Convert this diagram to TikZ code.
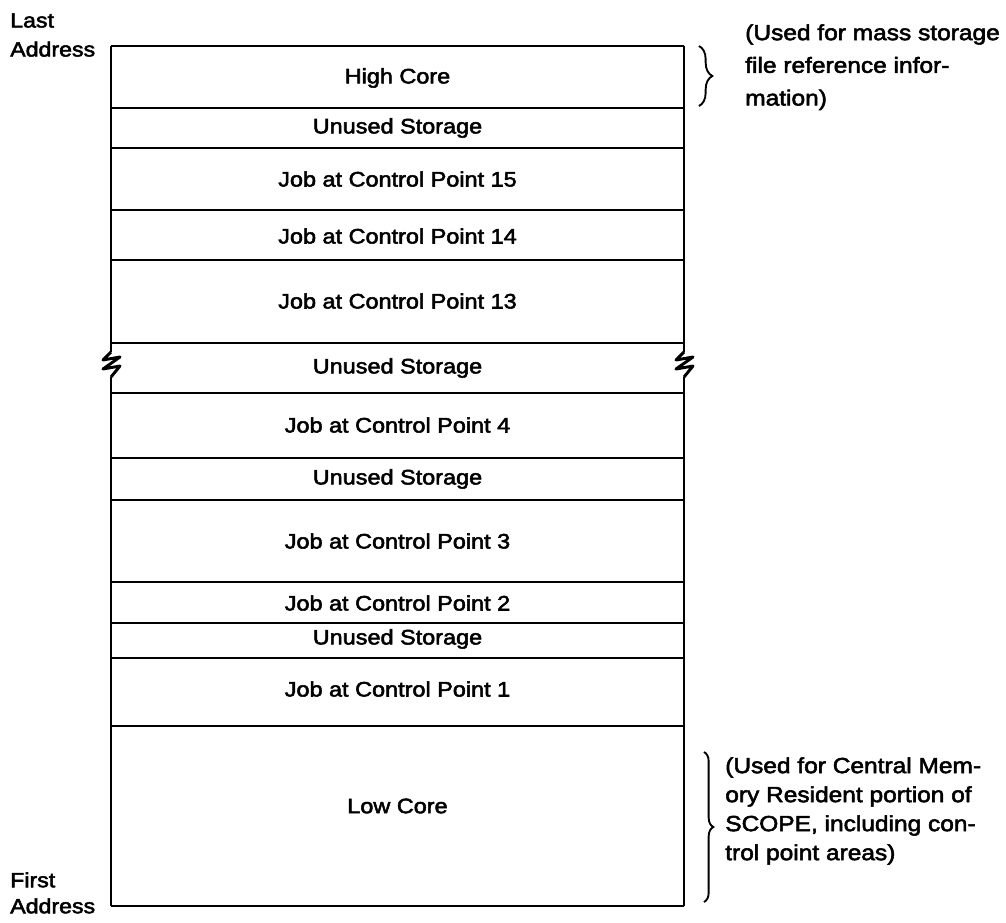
\documentclass[tikz,border=0pt]{standalone}
\usepackage{fontspec}
\setmainfont{Liberation Sans}[FakeStretch=1.12,FakeBold=2.5]
\usetikzlibrary{decorations.pathreplacing}

\begin{document}
\begin{tikzpicture}[x=0.75pt,y=-0.75pt,
        rowtxt/.style={font=\fontsize{15.7}{18}\selectfont},
        addrtxt/.style={font=\fontsize{15.5}{21.75}\selectfont,align=left,anchor=north west,inner sep=0pt},
        note/.style={font=\fontsize{16.4}{24.5}\selectfont,align=left,anchor=north west,inner sep=0pt},
        rule/.style={line width=2pt},
        brk/.style={line width=2.2pt,line join=round},
        curl/.style={line width=1.4pt,decorate,decoration={brace,amplitude=10pt}}]

      \useasboundingbox (0,0) rectangle (1006,922);

      % row dividers
      \draw[rule] (111,46)  -- (684,46);
      \draw[rule] (111,108) -- (684,108);
      \draw[rule] (111,148) -- (684,148);
      \draw[rule] (111,210) -- (684,210);
      \draw[rule] (111,260) -- (684,260);
      \draw[rule] (111,343) -- (684,343);
      \draw[rule] (111,393) -- (684,393);
      \draw[rule] (111,458) -- (684,458);
      \draw[rule] (111,500) -- (684,500);
      \draw[rule] (111,582) -- (684,582);
      \draw[rule] (111,623) -- (684,623);
      \draw[rule] (111,658) -- (684,658);
      \draw[rule] (111,726) -- (684,726);
      \draw[rule] (111,906) -- (684,906);

      % sides, broken in the unused area
      \draw[rule] (111,46) -- (111,352);
      \draw[rule] (111,377) -- (111,906);
      \draw[rule] (684,46) -- (684,352);
      \draw[rule] (684,377) -- (684,906);
      \draw[brk] (111,352) -- (103,360) -- (120,357) -- (103,369) -- (120,366) -- (111,377);
      \draw[brk] (684,352) -- (676,360) -- (693,357) -- (676,369) -- (693,366) -- (684,377);

      \node[rowtxt] (hcore) at (397.5,78)  {High Core};
      \node[rowtxt] (free1) at (397.5,128) {Unused Storage};
      \node[rowtxt] (cp15)  at (397.5,179) {Job at Control Point 15};
      \node[rowtxt] (cp14)  at (397.5,236) {Job at Control Point 14};
      \node[rowtxt] (cp13)  at (397.5,301) {Job at Control Point 13};
      \node[rowtxt] (free2) at (397.5,368) {Unused Storage};
      \node[rowtxt] (cp4)   at (397.5,425) {Job at Control Point 4};
      \node[rowtxt] (free3) at (397.5,479) {Unused Storage};
      \node[rowtxt] (cp3)   at (397.5,541) {Job at Control Point 3};
      \node[rowtxt] (cp2)   at (397.5,603) {Job at Control Point 2};
      \node[rowtxt] (free4) at (397.5,639) {Unused Storage};
      \node[rowtxt] (cp1)   at (397.5,689) {Job at Control Point 1};
      \node[rowtxt] (lcore) at (397.5,806) {Low Core};

      \node[addrtxt] (lastaddr)  at (10,13) {Last\\Address};
      \node[addrtxt,font=\fontsize{15.5}{19.5}\selectfont] (firstaddr) at (10,872) {First\\Address};

      \draw[curl] (699,46) -- (699,106);
      \draw[curl,decoration={amplitude=7pt}] (704,752) -- (704,902);

      \node[note] (massnote) at (745,24)
        {(Used for mass storage\\file reference infor-\\mation)};
      \node[note,font=\fontsize{16.4}{21.75}\selectfont] (scopenote) at (725,757)
        {(Used for Central Mem-\\ory Resident portion of\\SCOPE, including con-\\trol point areas)};
    \end{tikzpicture}
\end{document}
